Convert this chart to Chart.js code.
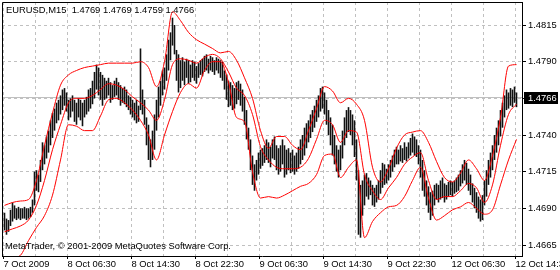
<!DOCTYPE html>
<html>
<head>
<meta charset="utf-8">
<script src="https://cdn.jsdelivr.net/npm/chart.js@4/dist/chart.umd.min.js"></script>
<style>
  html, body { margin: 0; padding: 0; background: #fff; }
  canvas { display: block; }
</style>
</head>
<body>
<canvas id="mt4-chart" width="560" height="270"></canvas>
<script>
// EURUSD M15 bars, oldest first (one bar = 15 minutes)
const barHigh = [
  1.4687,1.4683,1.4682,1.4689,1.4694,1.4692,1.4690,1.4691,1.4690,1.4690,
  1.4691,1.4690,1.4690,1.4691,1.4696,1.4715,1.4716,1.4713,1.4723,1.4735,
  1.4733,1.4739,1.4743,1.4750,1.4755,1.4758,1.4762,1.4764,1.4767,1.4771,
  1.4772,1.4769,1.4764,1.4765,1.4767,1.4764,1.4762,1.4765,1.4764,1.4762,
  1.4764,1.4766,1.4771,1.4772,1.4777,1.4783,1.4788,1.4786,1.4783,1.4781,
  1.4779,1.4777,1.4779,1.4776,1.4774,1.4777,1.4779,1.4776,1.4774,1.4772,
  1.4773,1.4771,1.4767,1.4766,1.4764,1.4762,1.4764,1.4760,1.4799,1.4771,
  1.4764,1.4752,1.4747,1.4737,1.4743,1.4754,1.4764,1.4773,1.4777,1.4784,
  1.4786,1.4795,1.4805,1.4810,1.4820,1.4815,1.4798,1.4795,1.4791,1.4793,
  1.4790,1.4792,1.4791,1.4788,1.4791,1.4790,1.4787,1.4789,1.4791,1.4792,
  1.4794,1.4795,1.4792,1.4794,1.4793,1.4791,1.4793,1.4792,1.4791,1.4790,
  1.4784,1.4781,1.4777,1.4776,1.4774,1.4772,1.4776,1.4777,1.4775,1.4771,
  1.4766,1.4757,1.4745,1.4737,1.4726,1.4720,1.4723,1.4728,1.4730,1.4731,
  1.4733,1.4737,1.4735,1.4732,1.4737,1.4739,1.4733,1.4731,1.4733,1.4737,
  1.4733,1.4730,1.4731,1.4728,1.4730,1.4726,1.4728,1.4732,1.4737,1.4740,
  1.4745,1.4748,1.4750,1.4754,1.4757,1.4760,1.4764,1.4767,1.4772,1.4773,
  1.4769,1.4764,1.4757,1.4752,1.4747,1.4740,1.4733,1.4730,1.4733,1.4743,
  1.4752,1.4757,1.4759,1.4757,1.4754,1.4750,1.4737,1.4716,1.4706,1.4709,
  1.4713,1.4714,1.4711,1.4709,1.4706,1.4704,1.4706,1.4709,1.4716,1.4721,
  1.4720,1.4717,1.4720,1.4723,1.4726,1.4730,1.4732,1.4730,1.4733,1.4731,
  1.4735,1.4732,1.4735,1.4738,1.4741,1.4739,1.4737,1.4733,1.4730,1.4723,
  1.4716,1.4709,1.4705,1.4701,1.4702,1.4706,1.4707,1.4706,1.4709,1.4711,
  1.4707,1.4706,1.4708,1.4709,1.4708,1.4709,1.4711,1.4713,1.4716,1.4720,
  1.4723,1.4721,1.4717,1.4713,1.4707,1.4704,1.4701,1.4698,1.4696,1.4699,
  1.4709,1.4716,1.4723,1.4728,1.4733,1.4740,1.4745,1.4750,1.4757,1.4762,
  1.4767,1.4771,1.4769,1.4772,1.4771,1.4773,1.4769
];
const barLow = [
  1.4675,1.4672,1.4674,1.4678,1.4681,1.4683,1.4682,1.4683,1.4682,1.4683,
  1.4683,1.4682,1.4683,1.4684,1.4687,1.4692,1.4702,1.4701,1.4708,1.4716,
  1.4720,1.4724,1.4728,1.4733,1.4738,1.4743,1.4748,1.4750,1.4754,1.4757,
  1.4760,1.4756,1.4750,1.4752,1.4756,1.4749,1.4747,1.4752,1.4750,1.4746,
  1.4752,1.4754,1.4756,1.4758,1.4761,1.4765,1.4771,1.4767,1.4764,1.4760,
  1.4764,1.4765,1.4767,1.4762,1.4764,1.4766,1.4767,1.4764,1.4760,1.4762,
  1.4761,1.4759,1.4757,1.4754,1.4752,1.4750,1.4748,1.4749,1.4757,1.4754,
  1.4747,1.4733,1.4723,1.4718,1.4723,1.4730,1.4743,1.4752,1.4760,1.4767,
  1.4771,1.4777,1.4784,1.4791,1.4801,1.4795,1.4777,1.4769,1.4772,1.4777,
  1.4774,1.4779,1.4775,1.4776,1.4779,1.4777,1.4775,1.4779,1.4781,1.4780,
  1.4783,1.4784,1.4782,1.4784,1.4783,1.4781,1.4784,1.4782,1.4779,1.4777,
  1.4771,1.4764,1.4759,1.4760,1.4757,1.4758,1.4761,1.4764,1.4760,1.4756,
  1.4747,1.4737,1.4730,1.4716,1.4706,1.4702,1.4709,1.4713,1.4717,1.4719,
  1.4721,1.4723,1.4721,1.4718,1.4724,1.4723,1.4716,1.4713,1.4715,1.4720,
  1.4711,1.4713,1.4716,1.4714,1.4715,1.4713,1.4715,1.4717,1.4720,1.4723,
  1.4726,1.4731,1.4735,1.4738,1.4742,1.4745,1.4749,1.4752,1.4756,1.4758,
  1.4754,1.4747,1.4740,1.4733,1.4726,1.4720,1.4715,1.4711,1.4716,1.4724,
  1.4733,1.4738,1.4742,1.4740,1.4733,1.4725,1.4709,1.4672,1.4670,1.4685,
  1.4692,1.4698,1.4696,1.4699,1.4692,1.4691,1.4694,1.4696,1.4700,1.4704,
  1.4706,1.4707,1.4709,1.4711,1.4715,1.4718,1.4720,1.4720,1.4722,1.4721,
  1.4723,1.4722,1.4724,1.4726,1.4728,1.4726,1.4725,1.4720,1.4711,1.4702,
  1.4698,1.4692,1.4687,1.4682,1.4685,1.4692,1.4696,1.4694,1.4696,1.4697,
  1.4694,1.4696,1.4698,1.4699,1.4698,1.4700,1.4701,1.4702,1.4705,1.4707,
  1.4709,1.4706,1.4702,1.4699,1.4694,1.4690,1.4687,1.4683,1.4681,1.4682,
  1.4692,1.4698,1.4706,1.4711,1.4716,1.4723,1.4728,1.4733,1.4739,1.4745,
  1.4752,1.4757,1.4758,1.4760,1.4759,1.4762,1.4759
];

// last bar O H L C shown in the header
const lastBar = [1.4769, 1.4769, 1.4759, 1.4766];

// Bollinger bands, read every 4th bar
const bandStep = 4;
const bandUpper = [
  1.4692,1.4694,1.4695,1.4696,1.4709,1.4733,1.4755,1.4774,1.4781,1.4784,
  1.4786,1.4787,1.4788,1.4789,1.4789,1.4789,1.4789,1.4790,1.4786,1.4773,
  1.4790,1.4824,1.4818,1.4810,1.4805,1.4802,1.4799,1.4796,1.4797,1.4791,
  1.4779,1.4765,1.4743,1.4731,1.4739,1.4739,1.4733,1.4730,1.4743,1.4758,
  1.4773,1.4770,1.4762,1.4765,1.4761,1.4750,1.4718,1.4708,1.4717,1.4731,
  1.4740,1.4742,1.4743,1.4735,1.4722,1.4711,1.4708,1.4714,1.4723,1.4717,
  1.4709,1.4726,1.4752,1.4787,1.4788
];
const bandMiddle = [
  1.4674,1.4676,1.4678,1.4682,1.4692,1.4709,1.4730,1.4747,1.4762,1.4765,
  1.4765,1.4767,1.4771,1.4775,1.4774,1.4771,1.4766,1.4762,1.4757,1.4750,
  1.4764,1.4788,1.4792,1.4791,1.4789,1.4793,1.4795,1.4792,1.4783,1.4772,
  1.4767,1.4754,1.4732,1.4723,1.4718,1.4717,1.4717,1.4718,1.4724,1.4737,
  1.4750,1.4747,1.4735,1.4743,1.4742,1.4713,1.4702,1.4696,1.4704,1.4711,
  1.4720,1.4725,1.4728,1.4709,1.4696,1.4698,1.4698,1.4702,1.4707,1.4704,
  1.4694,1.4706,1.4733,1.4754,1.4761
];
const bandLower = [
  1.4653,1.4656,1.4658,1.4668,1.4677,1.4685,1.4699,1.4723,1.4747,1.4746,
  1.4743,1.4743,1.4753,1.4764,1.4765,1.4762,1.4757,1.4750,1.4740,1.4723,
  1.4740,1.4756,1.4769,1.4775,1.4772,1.4784,1.4790,1.4790,1.4776,1.4752,
  1.4749,1.4715,1.4697,1.4698,1.4697,1.4699,1.4702,1.4705,1.4707,1.4713,
  1.4726,1.4727,1.4711,1.4718,1.4723,1.4670,1.4681,1.4687,1.4691,1.4692,
  1.4698,1.4709,1.4718,1.4697,1.4682,1.4685,1.4689,1.4691,1.4694,1.4690,
  1.4686,1.4689,1.4706,1.4723,1.4737
];

// axis labels
const timeLabels = ['7 Oct 2009', '8 Oct 06:30', '8 Oct 14:30', '8 Oct 22:30', '9 Oct 06:30',
                    '9 Oct 14:30', '9 Oct 22:30', '12 Oct 06:30', '12 Oct 14:30'];
const priceTicks = [1.4665, 1.4690, 1.4715, 1.4740, 1.4765, 1.4790, 1.4815];
const priceMin = 1.46575, priceMax = 1.48307;

const barsPerGrid = 16; // 4 hours of M15 bars
const FONT = '9.4px "Liberation Sans", Arial, sans-serif';

Chart.defaults.font.family = '"Liberation Sans", Arial, sans-serif';
Chart.defaults.font.size = 9.4;
Chart.defaults.color = '#000';

function gridValues() {
  const out = [];
  for (let v = -0.5; v < barHigh.length; v += barsPerGrid) out.push(v);
  return out;
}

// header, copyright, frame, bid line and price tag
const mt4Overlay = {
  id: 'mt4Overlay',
  beforeDatasetsDraw(chart) {
    const { ctx, chartArea: a, scales: { y } } = chart;
    const py = Math.round(y.getPixelForValue(lastBar[3])) + 0.5;
    ctx.save();
    ctx.strokeStyle = '#c0c0c0';
    ctx.lineWidth = 1;
    ctx.beginPath();
    ctx.moveTo(a.left, py);
    ctx.lineTo(a.right, py);
    ctx.stroke();
    ctx.restore();
  },
  afterDraw(chart) {
    const { ctx, chartArea: a, scales: { y } } = chart;
    ctx.save();
    ctx.strokeStyle = '#000';
    ctx.lineWidth = 1;
    ctx.beginPath();
    ctx.moveTo(a.left + 0.5, a.bottom);
    ctx.lineTo(a.left + 0.5, a.top + 0.5);
    ctx.lineTo(a.right, a.top + 0.5);
    ctx.stroke();

    ctx.font = FONT;
    ctx.fillStyle = '#000';
    ctx.textBaseline = 'alphabetic';
    ctx.textAlign = 'left';
    ctx.fillText('EURUSD,M15  ' + lastBar.map(v => v.toFixed(4)).join(' '), a.left + 4, a.top + 11);
    ctx.fillText('MetaTrader, \u00a9 2001-2009 MetaQuotes Software Corp.', a.left + 3, a.bottom - 7);

    const py = Math.round(y.getPixelForValue(lastBar[3]));
    ctx.fillStyle = '#000';
    ctx.fillRect(a.right + 2, py - 5, chart.width - a.right - 4, 12);
    ctx.fillStyle = '#fff';
    ctx.textBaseline = 'middle';
    ctx.fillText(lastBar[3].toFixed(4), a.right + 6, py + 1);
    ctx.restore();
  }
};

window.addEventListener('load', () => {
  const ctx = document.getElementById('mt4-chart').getContext('2d');
  const band = arr => arr.map((v, k) => ({ x: k * bandStep, y: v }));
  const lineStyle = {
    type: 'line',
    borderColor: '#ff0000',
    borderWidth: 1,
    pointRadius: 0,
    fill: false,
    cubicInterpolationMode: 'monotone',
    order: 1
  };

  new Chart(ctx, {
    type: 'bar',
    data: {
      datasets: [
        {
          label: 'EURUSD',
          data: barHigh.map((h, i) => ({ x: i, y: [barLow[i], h] })),
          backgroundColor: '#111',
          borderWidth: 0,
          barThickness: 1.6,
          inflateAmount: 0,
          grouped: false,
          order: 2
        },
        Object.assign({ label: 'Upper', data: band(bandUpper) }, lineStyle),
        Object.assign({ label: 'Middle', data: band(bandMiddle) }, lineStyle),
        Object.assign({ label: 'Lower', data: band(bandLower) }, lineStyle)
      ]
    },
    options: {
      responsive: false,
      animation: false,
      devicePixelRatio: 1,
      layout: { padding: { left: 2, top: 2, right: 0, bottom: 0 } },
      plugins: { legend: { display: false }, tooltip: { enabled: false } },
      scales: {
        x: {
          type: 'linear',
          min: -1.25,
          max: 258.75,
          offset: false,
          afterBuildTicks: s => { s.ticks = gridValues().map(v => ({ value: v })); },
          afterFit: s => { s.height = 14; s.paddingLeft = 0; s.paddingRight = 0; },
          grid: {
            color: '#c0c0c0',
            offset: false,
            tickLength: 3,
            tickColor: c => (c.index % 2 === 0 ? '#000' : 'rgba(0,0,0,0)')
          },
          border: { color: '#000', dash: [3, 3] },
          ticks: {
            autoSkip: false,
            maxRotation: 0,
            align: 'start',
            padding: 0,
            color: '#000',
            callback: (v, i) => (i % 2 === 0 ? timeLabels[i / 2] : '')
          }
        },
        y: {
          position: 'right',
          min: priceMin,
          max: priceMax,
          afterBuildTicks: s => { s.ticks = priceTicks.map(v => ({ value: v })); },
          afterFit: s => { s.width = 38; s.paddingTop = 0; s.paddingBottom = 0; },
          grid: { color: '#c0c0c0', tickLength: 4, tickColor: '#000' },
          border: { color: '#000', dash: [3, 3] },
          ticks: { padding: 2, color: '#000', callback: v => v.toFixed(4) }
        }
      }
    },
    plugins: [mt4Overlay]
  });
});
</script>
</body>
</html>
